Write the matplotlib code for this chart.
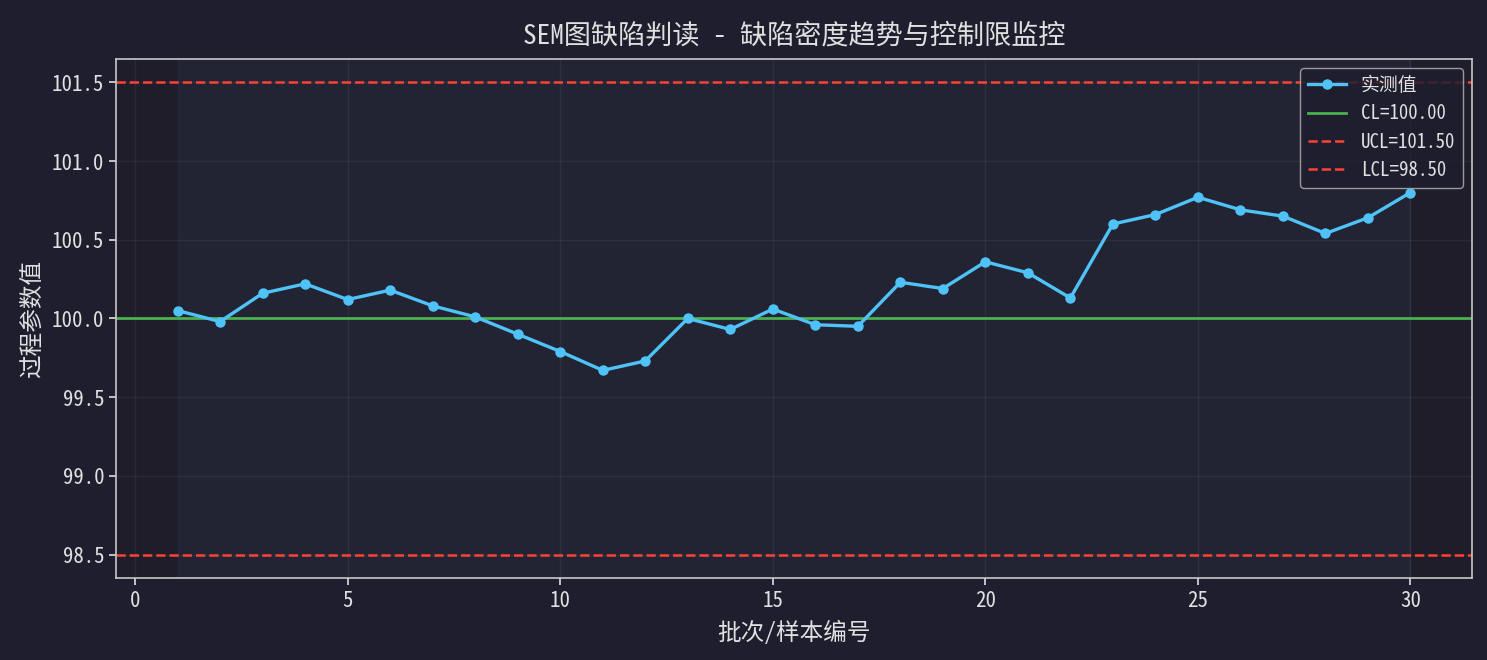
import matplotlib
matplotlib.use("Agg")
import matplotlib.pyplot as plt

# === 字体配置 ===
plt.rcParams['font.family'] = ['Noto Sans Mono CJK SC', 'Noto Sans CJK SC', 'DejaVu Sans']
plt.rcParams['axes.unicode_minus'] = False

# === 数据 ===
batch_no = list(range(1, 31))
measured = [100.05, 99.98, 100.16, 100.22, 100.12, 100.18, 100.08, 100.01, 99.90, 99.79,
            99.67, 99.73, 100.00, 99.93, 100.06, 99.96, 99.95, 100.23, 100.19, 100.36,
            100.29, 100.13, 100.60, 100.66, 100.77, 100.69, 100.65, 100.54, 100.64, 100.80]
cl = 100.00
ucl = 101.50
lcl = 98.50

BG = "#1e1e2e"
TXT = "#e0e0e0"

fig = plt.figure(figsize=(14.87, 6.6), dpi=100, facecolor=BG)
ax = fig.add_axes([0.078, 0.124, 0.912, 0.787])
ax.set_facecolor("#1f1d29")

ax.axvspan(batch_no[0], batch_no[-1], color="#3a5a8a", alpha=0.12, zorder=0)
ax.grid(True, color="#ffffff", alpha=0.05, linewidth=1)
ax.set_axisbelow(True)

ax.plot(batch_no, measured, color="#4fc3f7", linewidth=2.4, marker="o", markersize=6.5,
        label="实测值", zorder=3)
ax.axhline(cl, color="#4caf50", linewidth=2, label=f"CL={cl:.2f}", zorder=2)
ax.axhline(ucl, color="#ff4136", linewidth=1.8, linestyle="--", label=f"UCL={ucl:.2f}", zorder=2)
ax.axhline(lcl, color="#ff4136", linewidth=1.8, linestyle="--", label=f"LCL={lcl:.2f}", zorder=2)

ax.set_title("SEM图缺陷判读 - 缺陷密度趋势与控制限监控", color=TXT, fontsize=19.5, pad=11)
ax.set_xlabel("批次/样本编号", color=TXT, fontsize=17, labelpad=6)
ax.set_ylabel("过程参数值", color=TXT, fontsize=17, labelpad=6)
ax.tick_params(colors=TXT, labelsize=15, length=5, width=1.2)
for s in ax.spines.values():
    s.set_color("#c8c8c8")
    s.set_linewidth(1.2)

leg = ax.legend(loc="upper right", fontsize=13.6, facecolor=BG, edgecolor="#b0b0b0",
                framealpha=0.85, labelcolor=TXT)

plt.savefig("out.png", dpi=100, facecolor=BG)
plt.close()
